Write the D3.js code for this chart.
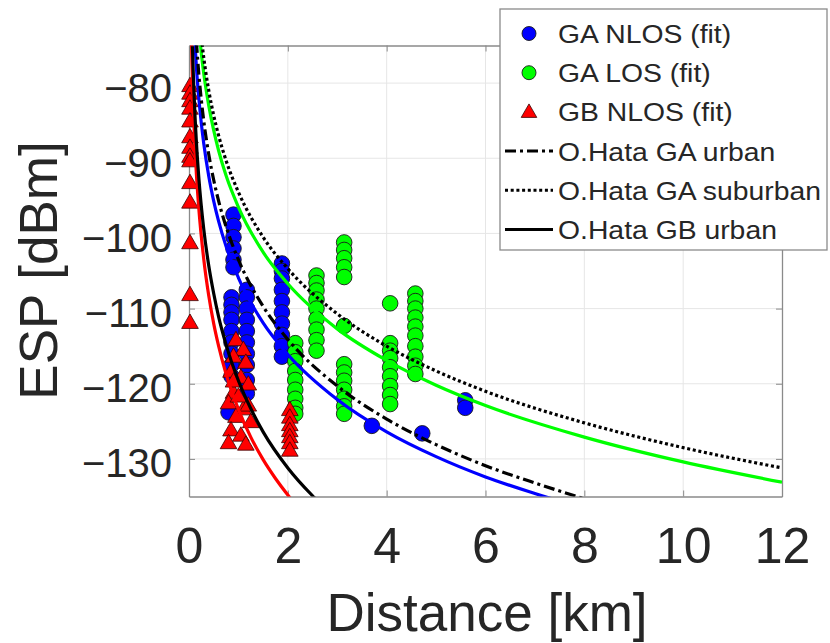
<!DOCTYPE html>
<html>
<head>
<meta charset="utf-8">
<script src="https://cdn.jsdelivr.net/npm/d3@7"></script>
<style>
  html, body { margin: 0; padding: 0; background: #fff; }
  svg { display: block; font-family: "Liberation Sans", Arial, Helvetica, sans-serif; }
</style>
</head>
<body>
<svg id="chart" width="830" height="643"></svg>
<script>
// ---------- data ----------
const xTicks = [0, 2, 4, 6, 8, 10, 12];
const yTicks = [-130, -120, -110, -100, -90, -80];

// GA NLOS measurements (blue circles)
const gaNlosDist = [0.9,0.9,0.9,0.9,0.9,0.9,
  0.86,0.86,0.86,0.86,0.86,0.86,0.86,0.86,0.86,
  1.17,1.17,1.17,1.17,1.17,1.17,1.17,1.17,1.17,1.17,
  0.8,
  1.88,1.88,1.88,1.88,1.88,1.88,1.88,1.88,1.88,1.88,
  3.7, 4.72, 5.59, 5.59];
const gaNlosEsp = [-97.5,-99,-100.5,-102,-103.5,-104.5,
  -108.5,-109.5,-110.5,-111.5,-113,-114.5,-116,-117.5,-119,
  -107.5,-108.5,-110,-111.5,-113,-114.5,-116,-117.5,-119.5,-121.3,
  -123.8,
  -104,-105,-106,-107.5,-109,-110.5,-112,-113.5,-115,-116.4,
  -125.6, -126.6, -122.2, -123.2];

// GA LOS measurements (green circles)
const gaLosDist = [2.15,2.15,2.15,2.15,2.15,2.15,2.15,2.15,2.15,
  2.58,2.58,2.58,2.58,2.58,2.58,2.58,2.58,2.58,
  3.14,3.14,3.14,3.14,3.14,3.14,3.14,3.14,3.14,3.14,3.14,3.14,3.14,
  4.07,4.07,4.07,4.07,4.07,4.07,4.07,4.07,4.07,
  4.58,4.58,4.58,4.58,4.58,4.58,4.58,4.58,4.58,4.58];
const gaLosEsp = [-114.6,-115.8,-117,-118.3,-119.5,-120.8,-122,-123.2,-124,
  -105.6,-106.6,-107.6,-108.8,-110,-111.4,-112.8,-114.2,-115.6,
  -101.2,-102.2,-103.3,-104.5,-105.8,-112.3,-117.4,-118.5,-119.6,-120.8,-122,-123,-124,
  -109.3,-114.6,-115.6,-116.6,-117.8,-119,-120.3,-121.5,-122.7,
  -108,-109,-110,-111.2,-112.4,-113.6,-115,-116.4,-117.6,-118.7];

// GB NLOS measurements (red triangles)
const gbNlosDist = [0.02,0.02,0.02,0.02,0.02,0.02,0.02,0.02,0.02,0.02,0.02,0.02,0.02,0.02,
  0.95,1.1,0.9,1.15,0.85,1.05,1.2,0.9,0.8,1.1,0.95,1.25,0.85,1.05,0.8,1.15,1.0,0.9,1.2,
  2.04,2.04,2.04,2.04,2.04,2.04,2.04];
const gbNlosEsp = [-80.5,-81.5,-82.5,-83.5,-85.2,-87.3,-88.7,-89.9,-90.5,-93.4,-96,-101.4,-108.3,-112,
  -114.3,-115.6,-116.5,-117.3,-118.5,-119.3,-120.2,-121.3,-122.7,-123.5,-124.5,-125.2,-126.3,-127,-128,-128.2,-121.8,-119.8,-123,
  -123.6,-124.6,-125.6,-126.4,-127.2,-128,-129];

// fitted / model curves
const fitGaNlosDist = [0.12,0.15,0.2,0.25,0.3,0.4,0.5,0.6,0.75,1,1.5,2,3,4,5,6,7,8];
const fitGaNlosEsp  = [-74.6,-77.9,-82.1,-85.4,-88.1,-92.4,-95.7,-98.4,-101.7,-105.9,-111.9,-116.1,-122.1,-126.4,-129.7,-132.4,-134.6,-136.6];

const fitGaLosDist = [0.2,0.25,0.3,0.4,0.5,0.6,0.75,1,1.5,2,3,4,5,6,8,10,12];
const fitGaLosEsp  = [-72.8,-76.1,-78.8,-83.0,-86.3,-89.0,-92.3,-96.5,-102.5,-106.7,-112.7,-116.9,-120.2,-122.9,-127.1,-130.4,-133.1];

const fitGbNlosDist = [0.05,0.06,0.07,0.1,0.15,0.2,0.3,0.4,0.5,0.6,0.75,1,1.25,1.5,1.75,2,2.25];
const fitGbNlosEsp  = [-74.0,-77.0,-79.5,-85.4,-92.1,-96.8,-103.5,-108.3,-112.0,-115.0,-118.7,-123.4,-127.1,-130.1,-132.6,-134.8,-136.8];

const hataGaUrbanDist = [0.15,0.2,0.25,0.3,0.4,0.5,0.6,0.75,1,1.5,2,3,4,5,6,7,8];
const hataGaUrbanEsp  = [-74.5,-78.9,-82.3,-85.1,-89.5,-92.9,-95.7,-99.1,-103.5,-109.7,-114.1,-120.3,-124.7,-128.1,-130.9,-133.2,-135.3];

const hataGaSuburbanDist = [0.25,0.3,0.4,0.5,0.6,0.75,1,1.5,2,3,4,5,6,8,10,12];
const hataGaSuburbanEsp  = [-74.0,-76.7,-81.0,-84.3,-87.0,-90.3,-94.5,-100.5,-104.7,-110.7,-115.0,-118.3,-121.0,-125.2,-128.5,-131.2];

const hataGbUrbanDist = [0.07,0.08,0.1,0.15,0.2,0.3,0.4,0.5,0.6,0.75,1,1.25,1.5,2,2.5,2.75];
const hataGbUrbanEsp  = [-75.1,-77.4,-81.1,-87.9,-92.7,-99.5,-104.3,-108.0,-111.1,-114.8,-119.6,-123.3,-126.4,-131.2,-134.9,-136.5];

const legendLabels = ["GA NLOS (fit)", "GA LOS (fit)", "GB NLOS (fit)",
  "O.Hata GA urban", "O.Hata GA suburban", "O.Hata GB urban"];

// ---------- drawing ----------
const svg = d3.select("#chart");
const L = 189, R = 782, T = 45.5, B = 496.5;
const x = d3.scaleLinear().domain([0, 12]).range([L, R]);
const y = d3.scaleLinear().domain([-135, -75]).range([B, T]);

const axisColor = "#8a8a8a";
const textColor = "#262626";
const circleR = 7.8;

// grid
const grid = svg.append("g");
grid.selectAll(".gx").data(xTicks.slice(1, -1)).join("line")
  .attr("x1", d => x(d)).attr("x2", d => x(d)).attr("y1", T).attr("y2", B)
  .attr("stroke", "#e6e6e6").attr("stroke-width", 1);
grid.selectAll(".gy").data(yTicks).join("line")
  .attr("y1", d => y(d)).attr("y2", d => y(d)).attr("x1", L).attr("x2", R)
  .attr("stroke", "#e6e6e6").attr("stroke-width", 1);

// axes
const fmtY = d => (d < 0 ? "\u2212" + Math.abs(d) : String(d));
const xAxis = svg.append("g").attr("transform", `translate(0,${B})`)
  .call(d3.axisBottom(x).tickValues(xTicks).tickSizeInner(-6).tickSizeOuter(0).tickPadding(30));
const yAxis = svg.append("g").attr("transform", `translate(${L},0)`)
  .call(d3.axisLeft(y).tickValues(yTicks).tickFormat(fmtY).tickSizeInner(-6).tickSizeOuter(0).tickPadding(17));
const xTop = svg.append("g").attr("transform", `translate(0,${T})`)
  .call(d3.axisTop(x).tickValues(xTicks).tickSizeInner(-6).tickSizeOuter(0).tickFormat(""));
const yRight = svg.append("g").attr("transform", `translate(${R},0)`)
  .call(d3.axisRight(y).tickValues(yTicks).tickSizeInner(-6).tickSizeOuter(0).tickFormat(""));

[xAxis, yAxis, xTop, yRight].forEach(g => {
  g.select(".domain").attr("stroke", axisColor).attr("stroke-width", 1.3);
  g.selectAll(".tick line").attr("stroke", axisColor).attr("stroke-width", 1);
});
xAxis.selectAll(".tick text")
  .attr("fill", textColor).attr("font-size", 50)
  .attr("font-family", "'Liberation Sans', Arial, sans-serif")
  .attr("dy", null).attr("y", 66);
yAxis.selectAll(".tick text")
  .attr("fill", textColor).attr("font-size", 40)
  .attr("font-family", "'Liberation Sans', Arial, sans-serif")
  .attr("dy", null).attr("y", 18).attr("x", -17);

// axis labels
svg.append("text").attr("x", 487).attr("y", 631).attr("text-anchor", "middle")
  .attr("font-size", 53).attr("fill", textColor).text("Distance [km]");
svg.append("text").attr("transform", "translate(56.5,270.5) rotate(-90)")
  .attr("text-anchor", "middle").attr("font-size", 53).attr("fill", textColor).text("ESP [dBm]");

// markers
const pts = (ds, vs) => ds.map((d, i) => [d, vs[i]]);
const marks = svg.append("g");
marks.selectAll(".b").data(pts(gaNlosDist, gaNlosEsp)).join("circle")
  .attr("cx", d => x(d[0])).attr("cy", d => y(d[1])).attr("r", circleR)
  .attr("fill", "#0000ff").attr("stroke", "#1a1a1a").attr("stroke-width", 0.9);
marks.selectAll(".g").data(pts(gaLosDist, gaLosEsp)).join("circle")
  .attr("cx", d => x(d[0])).attr("cy", d => y(d[1])).attr("r", circleR)
  .attr("fill", "#00ff00").attr("stroke", "#1a1a1a").attr("stroke-width", 0.9);
const tri = d3.symbol().type(d3.symbolTriangle).size(120);
marks.selectAll(".r").data(pts(gbNlosDist, gbNlosEsp)).join("path")
  .attr("d", tri).attr("transform", d => `translate(${x(d[0])},${y(d[1])})`)
  .attr("fill", "#ff0000").attr("stroke", "#3a0000").attr("stroke-width", 0.8);

// curves
svg.append("clipPath").attr("id", "plotclip").append("rect")
  .attr("x", L).attr("y", T).attr("width", R - L).attr("height", B - T);
const line = d3.line().x(d => x(d[0])).y(d => y(d[1])).curve(d3.curveMonotoneX);
const curves = [
  {ds: fitGaNlosDist, vs: fitGaNlosEsp, color: "#0000ff", dash: null},
  {ds: fitGaLosDist, vs: fitGaLosEsp, color: "#00ff00", dash: null},
  {ds: fitGbNlosDist, vs: fitGbNlosEsp, color: "#ff0000", dash: null},
  {ds: hataGaUrbanDist, vs: hataGaUrbanEsp, color: "#000", dash: "11,4,3,4"},
  {ds: hataGaSuburbanDist, vs: hataGaSuburbanEsp, color: "#000", dash: "3,2.7"},
  {ds: hataGbUrbanDist, vs: hataGbUrbanEsp, color: "#000", dash: null}
];
const cg = svg.append("g").attr("clip-path", "url(#plotclip)");
curves.forEach(c => {
  cg.append("path").attr("d", line(pts(c.ds, c.vs)))
    .attr("fill", "none").attr("stroke", c.color).attr("stroke-width", 3.2)
    .attr("stroke-dasharray", c.dash);
});

// legend
const lg = svg.append("g");
lg.append("rect").attr("x", 500).attr("y", 9).attr("width", 327).attr("height", 241)
  .attr("fill", "#fff").attr("stroke", "#8a8a8a").attr("stroke-width", 1.3);
const rowY = i => 33.5 + i * 39.2;
lg.append("circle").attr("cx", 529).attr("cy", rowY(0)).attr("r", 7)
  .attr("fill", "#0000ff").attr("stroke", "#1a1a1a").attr("stroke-width", 0.9);
lg.append("circle").attr("cx", 529).attr("cy", rowY(1)).attr("r", 7)
  .attr("fill", "#00ff00").attr("stroke", "#1a1a1a").attr("stroke-width", 0.9);
lg.append("path").attr("d", d3.symbol().type(d3.symbolTriangle).size(105))
  .attr("transform", `translate(529,${rowY(2) + 1})`)
  .attr("fill", "#ff0000").attr("stroke", "#3a0000").attr("stroke-width", 0.8);
[3, 4, 5].forEach(i => {
  lg.append("line").attr("x1", 505).attr("x2", 553).attr("y1", rowY(i)).attr("y2", rowY(i))
    .attr("stroke", "#000").attr("stroke-width", 3).attr("stroke-dasharray", curves[i].dash);
});
legendLabels.forEach((t, i) => {
  lg.append("text").attr("transform", `translate(558,${rowY(i) + 9.5}) scale(1.09,1)`)
    .attr("font-size", 26).attr("fill", textColor).text(t);
});
</script>
</body>
</html>
